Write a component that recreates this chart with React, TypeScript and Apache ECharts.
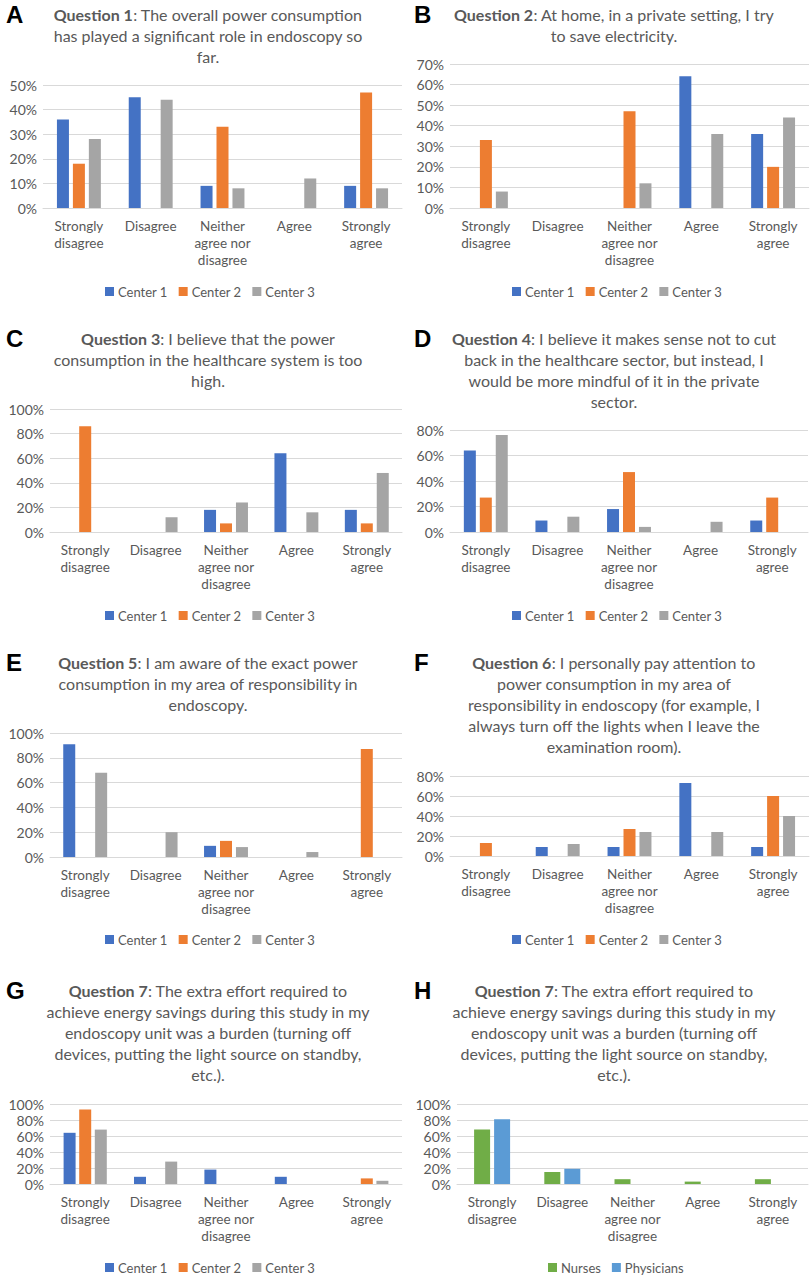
import React, { useEffect, useRef } from "react";
import * as echarts from "echarts";

const categories = ["Strongly\ndisagree", "Disagree", "Neither\nagree nor\ndisagree", "Agree", "Strongly\nagree"];
const centerNames = ["Center 1", "Center 2", "Center 3"];
const groupNames = ["Nurses", "Physicians"];

const q1Center1 = [36, 45, 9, 0, 9];
const q1Center2 = [18, 0, 33, 0, 47];
const q1Center3 = [28, 44, 8, 12, 8];

const q2Center1 = [0, 0, 0, 64, 36];
const q2Center2 = [33, 0, 47, 0, 20];
const q2Center3 = [8, 0, 12, 36, 44];

const q3Center1 = [0, 0, 18, 64, 18];
const q3Center2 = [86, 0, 7, 0, 7];
const q3Center3 = [0, 12, 24, 16, 48];

const q4Center1 = [64, 9, 18, 0, 9];
const q4Center2 = [27, 0, 47, 0, 27];
const q4Center3 = [76, 12, 4, 8, 0];

const q5Center1 = [91, 0, 9, 0, 0];
const q5Center2 = [0, 0, 13, 0, 87];
const q5Center3 = [68, 20, 8, 4, 0];

const q6Center1 = [0, 9, 9, 73, 9];
const q6Center2 = [13, 0, 27, 0, 60];
const q6Center3 = [0, 12, 24, 24, 40];

const q7Center1 = [64, 9, 18, 9, 0];
const q7Center2 = [93, 0, 0, 0, 7];
const q7Center3 = [68, 28, 0, 0, 4];

const q7Nurses = [68, 15, 6, 3, 6];
const q7Physicians = [81, 19, 0, 0, 0];

const centerColors = ["#4472C4", "#ED7D31", "#A5A5A5"];
const groupColors = ["#70AD47", "#5B9BD5"];

const TXT = "#595959";
const FONT = "Lato";

type Panel = {
  letter: string;
  q: string;
  lines: string[];
  names: string[];
  colors: string[];
  data: number[][];
  max: number;
  interval: number;
  col: number;
  titleTop: number;
  gridTop: number;
  gridBottom: number;
  gridLeft: number;
  gridWidth: number;
  legendTop: number;
  legendLeft: number;
  barWidth: number;
  barGap: string;
};

const panels: Panel[] = [
  {
    letter: "A", q: "Question 1",
    lines: [": The overall power consumption", "has played a significant role in endoscopy so", "far."],
    names: centerNames, colors: centerColors, data: [q1Center1, q1Center2, q1Center3],
    max: 50, interval: 10, col: 0, titleTop: 3.5, gridTop: 85, gridBottom: 208, gridLeft: 43, gridWidth: 359,
    legendTop: 285, legendLeft: 105, barWidth: 12, barGap: "33%",
  },
  {
    letter: "B", q: "Question 2",
    lines: [": At home, in a private setting, I try", "to save electricity."],
    names: centerNames, colors: centerColors, data: [q2Center1, q2Center2, q2Center3],
    max: 70, interval: 10, col: 1, titleTop: 3.5, gridTop: 64, gridBottom: 208, gridLeft: 450, gridWidth: 359,
    legendTop: 285, legendLeft: 512, barWidth: 12, barGap: "33%",
  },
  {
    letter: "C", q: "Question 3",
    lines: [": I believe that the power", "consumption in the healthcare system is too", "high."],
    names: centerNames, colors: centerColors, data: [q3Center1, q3Center2, q3Center3],
    max: 100, interval: 20, col: 0, titleTop: 327.5, gridTop: 409, gridBottom: 532, gridLeft: 50, gridWidth: 352,
    legendTop: 609, legendLeft: 105, barWidth: 12, barGap: "33%",
  },
  {
    letter: "D", q: "Question 4",
    lines: [": I believe it makes sense not to cut", "back in the healthcare sector, but instead, I", "would be more mindful of it in the private", "sector."],
    names: centerNames, colors: centerColors, data: [q4Center1, q4Center2, q4Center3],
    max: 80, interval: 20, col: 1, titleTop: 327.5, gridTop: 430, gridBottom: 532, gridLeft: 450, gridWidth: 358,
    legendTop: 609, legendLeft: 512, barWidth: 12, barGap: "33%",
  },
  {
    letter: "E", q: "Question 5",
    lines: [": I am aware of the exact power", "consumption in my area of responsibility in", "endoscopy."],
    names: centerNames, colors: centerColors, data: [q5Center1, q5Center2, q5Center3],
    max: 100, interval: 20, col: 0, titleTop: 651.5, gridTop: 733, gridBottom: 857, gridLeft: 50, gridWidth: 352,
    legendTop: 933, legendLeft: 105, barWidth: 12, barGap: "33%",
  },
  {
    letter: "F", q: "Question 6",
    lines: [": I personally pay attention to", "power consumption in my area of", "responsibility in endoscopy (for example, I", "always turn off the lights when I leave the", "examination room)."],
    names: centerNames, colors: centerColors, data: [q6Center1, q6Center2, q6Center3],
    max: 80, interval: 20, col: 1, titleTop: 651.5, gridTop: 776, gridBottom: 856, gridLeft: 450, gridWidth: 359,
    legendTop: 933, legendLeft: 512, barWidth: 12, barGap: "33%",
  },
  {
    letter: "G", q: "Question 7",
    lines: [": The extra effort required to", "achieve energy savings during this study in my", "endoscopy unit was a burden (turning off", "devices, putting the light source on standby,", "etc.)."],
    names: centerNames, colors: centerColors, data: [q7Center1, q7Center2, q7Center3],
    max: 100, interval: 20, col: 0, titleTop: 979.5, gridTop: 1104, gridBottom: 1184, gridLeft: 50, gridWidth: 352,
    legendTop: 1261, legendLeft: 105, barWidth: 12, barGap: "30%",
  },
  {
    letter: "H", q: "Question 7",
    lines: [": The extra effort required to", "achieve energy savings during this study in my", "endoscopy unit was a burden (turning off", "devices, putting the light source on standby,", "etc.)."],
    names: groupNames, colors: groupColors, data: [q7Nurses, q7Physicians],
    max: 100, interval: 20, col: 1, titleTop: 979.5, gridTop: 1104, gridBottom: 1184, gridLeft: 457, gridWidth: 351,
    legendTop: 1261, legendLeft: 548, barWidth: 16, barGap: "25%",
  },
];

function buildOption() {
  const title: any[] = [];
  const grid: any[] = [];
  const xAxis: any[] = [];
  const yAxis: any[] = [];
  const legend: any[] = [];
  const series: any[] = [];

  panels.forEach((p, i) => {
    const cx = p.col === 0 ? 208 : 614;
    const text = p.lines
      .map((l, k) => (k === 0 ? `{b|${p.q}}{n|${l}}` : `{n|${l}}`))
      .join("\n");
    title.push({
      text,
      left: cx,
      top: p.titleTop,
      textAlign: "center",
      padding: 0,
      textStyle: {
        fontFamily: FONT,
        fontSize: 16,
        lineHeight: 21,
        color: TXT,
        rich: {
          b: { fontFamily: FONT, fontSize: 16, lineHeight: 21, fontWeight: "bold", color: TXT },
          n: { fontFamily: FONT, fontSize: 16, lineHeight: 21, fontWeight: "normal", color: TXT },
        },
      },
    });
    title.push({
      text: p.letter,
      left: p.col === 0 ? 6 : 414,
      top: p.titleTop - 1,
      padding: 0,
      textStyle: { fontFamily: "Liberation Sans", fontSize: 24, fontWeight: "bold", color: "#000" },
    });
    grid.push({
      left: p.gridLeft,
      top: p.gridTop,
      width: p.gridWidth,
      height: p.gridBottom - p.gridTop,
      containLabel: false,
    });
    xAxis.push({
      type: "category",
      gridIndex: i,
      data: categories,
      axisTick: { show: false },
      axisLine: { lineStyle: { color: "#D9D9D9" } },
      axisLabel: { interval: 0, color: TXT, fontFamily: FONT, fontSize: 13.5, lineHeight: 17, margin: 9 },
    });
    yAxis.push({
      type: "value",
      gridIndex: i,
      min: 0,
      max: p.max,
      interval: p.interval,
      axisLine: { show: false },
      axisTick: { show: false },
      splitLine: { lineStyle: { color: "#D9D9D9", width: 1 } },
      axisLabel: { formatter: "{value}%", color: TXT, fontFamily: FONT, fontSize: 14, margin: 6 },
    });
    legend.push({
      data: p.names,
      left: p.legendLeft,
      top: p.legendTop,
      padding: 0,
      itemWidth: 9,
      itemHeight: 9,
      itemGap: 11,
      icon: "rect",
      selectedMode: false,
      textStyle: { color: TXT, fontFamily: FONT, fontSize: 13, padding: [0, 0, 0, -1] },
    });
    p.data.forEach((d, k) => {
      series.push({
        type: "bar",
        name: p.names[k],
        xAxisIndex: i,
        yAxisIndex: i,
        data: d,
        barWidth: p.barWidth,
        barGap: p.barGap,
        itemStyle: { color: p.colors[k] },
      });
    });
  });

  return {
    animation: false,
    backgroundColor: "#ffffff",
    title,
    grid,
    xAxis,
    yAxis,
    legend,
    series,
  };
}

export default function App() {
  const ref = useRef<HTMLDivElement>(null);
  useEffect(() => {
    document.body.style.margin = "0";
    if (!ref.current) return;
    const chart = echarts.init(ref.current, undefined, { renderer: "svg" });
    chart.setOption(buildOption());
    return () => chart.dispose();
  }, []);
  return <div ref={ref} style={{ width: 810, height: 1280 }} />;
}
